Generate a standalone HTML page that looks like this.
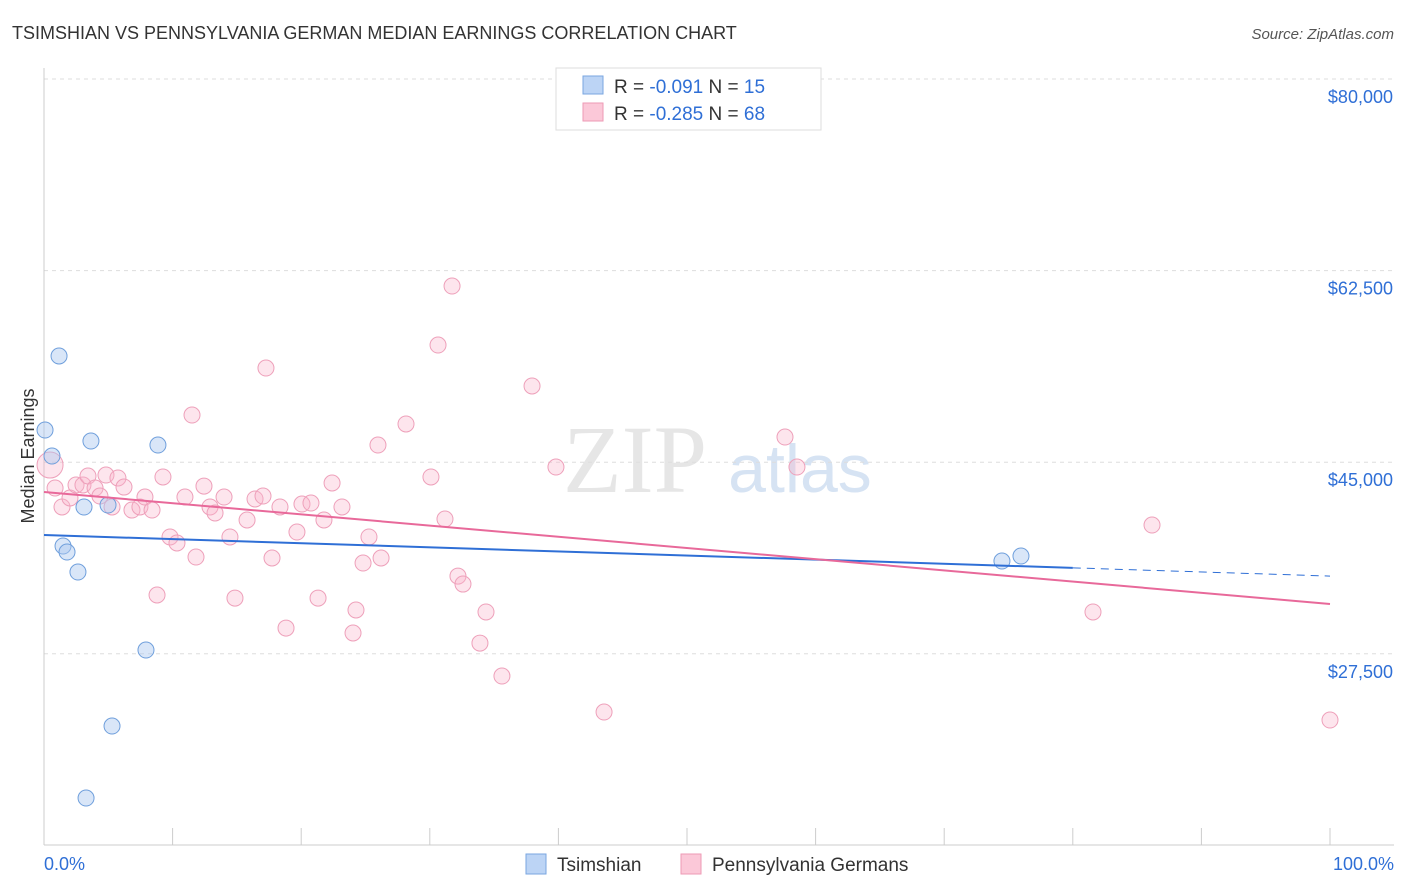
<!DOCTYPE html>
<html><head><meta charset="utf-8"><style>
body{margin:0;background:#fff;font-family:"Liberation Sans",sans-serif}
svg{display:block}
</style></head><body>
<svg id="c" width="1406" height="892">
<text x="12" y="39" font-size="18" fill="#333">TSIMSHIAN VS PENNSYLVANIA GERMAN MEDIAN EARNINGS CORRELATION CHART</text>
<text x="1394" y="39" font-size="15" fill="#555" font-style="italic" text-anchor="end">Source: ZipAtlas.com</text>
<text x="635" y="492" font-size="96" fill="#e6e6e6" font-family="Liberation Serif" text-anchor="middle">ZIP</text>
<text x="800" y="492" font-size="68" fill="#d6e3f3" text-anchor="middle">atlas</text>
<text transform="translate(34,456) rotate(-90)" font-size="18" fill="#333" text-anchor="middle">Median Earnings</text>
<g id="grid"></g><g id="marks"></g>
<g>
<rect x="556" y="68" width="265" height="62" fill="#fff" stroke="#ddd"/>
<rect x="583" y="76" width="20" height="18" fill="#bcd4f5" stroke="#7aa6e0"/>
<rect x="583" y="103" width="20" height="18" fill="#fbc8d8" stroke="#ee9ab5"/>
<text x="614" y="93" font-size="19" fill="#333">R = <tspan fill="#2f6fd6">-0.091</tspan>   N = <tspan fill="#2f6fd6">15</tspan></text>
<text x="614" y="120" font-size="19" fill="#333">R = <tspan fill="#2f6fd6">-0.285</tspan>   N = <tspan fill="#2f6fd6">68</tspan></text>
</g>
<g>
<rect x="526" y="854" width="20" height="20" fill="#bcd4f5" stroke="#7aa6e0"/>
<text x="557" y="871" font-size="19" fill="#333">Tsimshian</text>
<rect x="681" y="854" width="20" height="20" fill="#fbc8d8" stroke="#ee9ab5"/>
<text x="712" y="871" font-size="19" fill="#333">Pennsylvania Germans</text>
</g>
<text x="44" y="870" font-size="18" fill="#2f6fd6">0.0%</text>
<text x="1394" y="870" font-size="18" fill="#2f6fd6" text-anchor="end">100.0%</text>
</svg>
<script>
const yTicks=[80000,62500,45000,27500];
const yTickLabels=["$80,000","$62,500","$45,000","$27,500"];
const blueX=[0.08,0.62,1.17,3.65,8.86,3.11,4.98,1.48,1.79,2.64,7.93,5.29,3.27,74.49,75.97];
const blueY=[47940,45565,54700,46935,46570,40906,41089,37344,36796,34969,27845,20903,14327,35974,36431];
const pinkX=[0.86,1.40,2.02,2.49,3.03,3.42,3.97,4.35,4.82,5.29,5.75,6.22,6.84,7.46,7.85,8.40,8.79,9.25,9.80,10.34,10.96,11.51,11.82,12.44,12.91,13.30,14.00,14.46,14.85,15.79,16.41,17.03,17.26,17.73,18.35,18.82,19.67,20.06,20.76,21.31,21.77,22.40,23.17,24.03,24.26,24.81,25.27,25.97,26.21,28.15,30.09,30.64,31.18,31.73,32.19,32.58,33.90,34.37,35.61,37.95,39.81,43.55,57.62,58.55,81.57,86.16,100,0.47];
const pinkY=[42640,40910,41730,42920,42920,43740,42640,41910,43830,40910,43560,42730,40630,40910,41820,40630,32870,43650,38170,37620,41820,49310,36340,42820,40910,40360,41820,38170,32590,39720,41640,41910,53600,36250,40910,29850,38620,41180,41270,32590,39720,43100,40910,29400,31500,35790,38170,46570,36250,48490,43650,55700,39810,61090,34600,33870,28480,31320,25470,51960,44560,22180,47300,44560,31320,39260,21450,44740];
const blueTrend=[38350,34600];
const pinkTrend=[42280,32050];
const NS="http://www.w3.org/2000/svg";
const X=p=>44+p/100*1286, Y=v=>79+(80000-v)/17500*191.6;
const grid=document.getElementById('grid'), marks=document.getElementById('marks');
function mk(tag,at,parent){const e=document.createElementNS(NS,tag);for(const k in at)e.setAttribute(k,at[k]);parent.appendChild(e);return e;}
yTicks.forEach((t,i)=>{
 const l=mk('line',{x1:44,x2:1394,y1:Y(t),y2:Y(t),stroke:'#ddd','stroke-dasharray':'4,4'},grid);
 
 
 const tx=mk('text',{x:1393,y:Y(t)+24,'font-size':18,fill:'#2f6fd6','text-anchor':'end'},grid);
 tx.textContent=yTickLabels[i];
 
 
});
let a=mk('line',{x1:44,x2:44,y1:68,y2:845,stroke:'#ccc'},grid);


a=mk('line',{x1:44,x2:1394,y1:845,y2:845,stroke:'#ccc'},grid);


for(let i=1;i<=10;i++){const t=mk('line',{x1:X(i*10),x2:X(i*10),y1:828,y2:845,stroke:'#ccc'},grid);
 
 }
pinkX.forEach((x,i)=>{const c=mk('circle',{cx:X(x),cy:Y(pinkY[i]),r:i==67?13:8,fill:'rgba(248,180,202,0.35)',stroke:'#eea0ba','stroke-width':1},marks);
 
 });
blueX.forEach((x,i)=>{const c=mk('circle',{cx:X(x),cy:Y(blueY[i]),r:8,fill:'rgba(170,200,240,0.45)',stroke:'#6f9fdc','stroke-width':1},marks);
 
 });
const bAt=p=>blueTrend[0]+(blueTrend[1]-blueTrend[0])*p/100;
let l=mk('line',{x1:X(0),y1:Y(bAt(0)),x2:X(80),y2:Y(bAt(80)),stroke:'#2f6fd6','stroke-width':2},marks);


l=mk('line',{x1:X(80),y1:Y(bAt(80)),x2:X(100),y2:Y(bAt(100)),stroke:'#2f6fd6','stroke-width':1,'stroke-dasharray':'8,6'},marks);


l=mk('line',{x1:X(0),y1:Y(pinkTrend[0]),x2:X(100),y2:Y(pinkTrend[1]),stroke:'#e8699a','stroke-width':2},marks);


</script>
</body></html>
